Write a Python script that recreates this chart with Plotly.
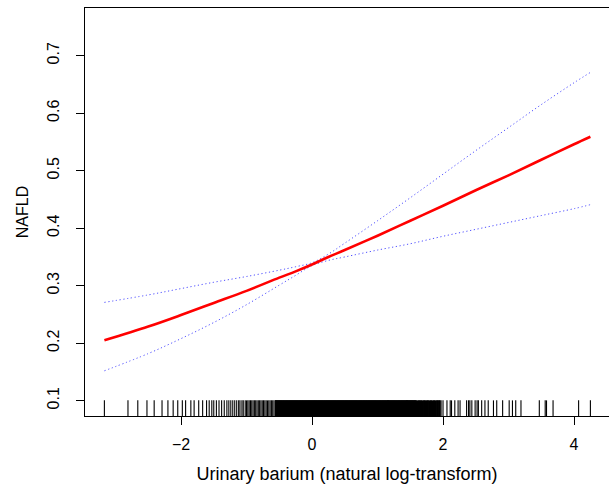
import plotly.graph_objects as go

# Fitted curve and 95% CI
x_fit = [-3.17, -2.5, -2.0, -1.5, -1.0, -0.5, -0.25, 0.0, 0.25, 0.5, 1.0, 1.5, 2.0, 2.5, 3.0, 3.5, 4.0, 4.25]
y_fit = [0.205, 0.229, 0.249, 0.270, 0.291, 0.314, 0.325, 0.337, 0.350, 0.362, 0.387, 0.413, 0.439, 0.466, 0.492, 0.519, 0.546, 0.559]
y_upper = [0.271, 0.284, 0.295, 0.306, 0.316, 0.327, 0.333, 0.340, 0.355, 0.374, 0.413, 0.453, 0.494, 0.535, 0.575, 0.615, 0.653, 0.671]
y_lower = [0.152, 0.182, 0.208, 0.236, 0.267, 0.301, 0.318, 0.335, 0.344, 0.350, 0.362, 0.373, 0.386, 0.398, 0.410, 0.422, 0.434, 0.441]

# Rug (observed exposure values)
rug_left = [-3.17, -2.81, -2.66, -2.52, -2.41, -2.29, -2.20, -2.12, -2.05, -1.98, -1.93, -1.85,
            -1.80, -1.73, -1.67, -1.61, -1.57, -1.53, -1.50, -1.46, -1.42, -1.38, -1.34, -1.30, -1.27,
            -1.24, -1.21, -1.18, -1.15, -1.12, -1.10, -1.07, -1.05, -1.02, -1.00, -0.98, -0.96,
            -0.94, -0.92, -0.90, -0.88, -0.86, -0.84, -0.82, -0.80, -0.78, -0.76, -0.74, -0.72,
            -0.70, -0.68, -0.66, -0.64, -0.62, -0.60, -0.58, -0.56]
rug_dense_hundredths = [
    -55, -54, -53, -52, -51, -50, -49, -48, -47, -46, -45, -44, -43, -42, -41, -40, -39, -38, -37, -36,
    -35, -34, -33, -32, -31, -30, -29, -28, -27, -26, -25, -24, -23, -22, -21, -20, -19, -18, -17, -16,
    -15, -14, -13, -12, -11, -10, -9, -8, -7, -6, -5, -4, -3, -2, -1, 0, 1, 2, 3, 4,
    5, 6, 7, 8, 9, 10, 11, 12, 13, 14, 15, 16, 17, 18, 19, 20, 21, 22, 23, 24,
    25, 26, 27, 28, 29, 30, 31, 32, 33, 34, 35, 36, 37, 38, 39, 40, 41, 42, 43, 44,
    45, 46, 47, 48, 49, 50, 51, 52, 53, 54, 55, 56, 57, 58, 59, 60, 61, 62, 63, 64,
    65, 66, 67, 68, 69, 70, 71, 72, 73, 74, 75, 76, 77, 78, 79, 80, 81, 82, 83, 84,
    85, 86, 87, 88, 89, 90, 91, 92, 93, 94, 95, 96, 97, 98, 99, 100, 101, 102, 103, 104,
    105, 106, 107, 108, 109, 110, 111, 112, 113, 114, 115, 116, 117, 118, 119, 120, 121, 122, 123, 124,
    125, 126, 127, 128, 129, 130, 131, 132, 133, 134, 135, 136, 137, 138, 139, 140, 141, 142, 143, 144,
    145, 146, 147, 148, 149, 150, 151, 152, 153, 154, 155, 156, 157, 158, 159, 161, 163, 164, 166, 167,
    169, 171, 172, 174, 176, 177, 179, 181, 182, 184, 186, 187, 189, 191, 192, 194, 195]
rug_right = [1.97, 2.00, 2.06, 2.11, 2.13, 2.18, 2.23, 2.26, 2.36, 2.39, 2.41, 2.44, 2.49, 2.52,
             2.54, 2.59, 2.64, 2.69, 2.77, 2.82, 2.91, 3.01, 3.06, 3.11, 3.19, 3.47, 3.56, 3.58,
             3.68, 4.07, 4.25]

x_ticks = [-2, 0, 2, 4]
x_tick_labels = ["\u22122", "0", "2", "4"]
y_ticks = [0.1, 0.2, 0.3, 0.4, 0.5, 0.6, 0.7]
y_tick_labels = ["0.1", "0.2", "0.3", "0.4", "0.5", "0.6", "0.7"]

rug_sparse = rug_left + rug_right
rug_dense = [v / 100 for v in rug_dense_hundredths]

FONT = "Liberation Sans, Arial, Helvetica, sans-serif"
fig = go.Figure()
for vals, w in ((rug_sparse, 1.1), (rug_dense, 2.0)):
    fig.add_trace(go.Scatter(x=vals, y=[0.016] * len(vals), mode="markers", yaxis="y2",
                             marker=dict(symbol="line-ns-open", size=13, color="black",
                                         line=dict(color="black", width=w)),
                             hoverinfo="skip"))
fig.add_trace(go.Scatter(x=x_fit, y=y_upper, mode="lines", line_shape="spline",
                         line=dict(color="rgb(80,80,255)", width=1.0, dash="1.2px,2.6px")))
fig.add_trace(go.Scatter(x=x_fit, y=y_lower, mode="lines", line_shape="spline",
                         line=dict(color="rgb(80,80,255)", width=1.0, dash="1.2px,2.6px")))
fig.add_trace(go.Scatter(x=x_fit, y=y_fit, mode="lines", line_shape="spline",
                         line=dict(color="#ff0000", width=2.6)))

fig.update_layout(
    width=609, height=487,
    margin=dict(l=85, r=0, t=8, b=71),
    paper_bgcolor="white", plot_bgcolor="white",
    showlegend=False,
    font=dict(family=FONT, size=16, color="black"),
    xaxis=dict(range=[-3.466, 4.534], tickvals=x_ticks, ticktext=x_tick_labels,
               automargin=False,
               showgrid=False, zeroline=False, showline=True, mirror=True,
               linecolor="black", linewidth=1.3, ticks="outside", ticklen=8,
               tickwidth=1.1, tickcolor="black", tickfont=dict(size=16),
               ticklabelstandoff=6,
               title=dict(text="Urinary barium (natural log-transform)",
                          font=dict(size=18), standoff=15)),
    yaxis=dict(range=[0.0734, 0.783], tickvals=y_ticks, ticktext=y_tick_labels,
               automargin=False,
               tickangle=-90, showgrid=False, zeroline=False, showline=True,
               mirror=False, linecolor="black", linewidth=1.3, ticks="outside",
               ticklen=8, tickwidth=1.1, tickcolor="black", tickfont=dict(size=16),
               ticklabelstandoff=10,
               title=dict(text="NAFLD", font=dict(size=16), standoff=12)),
    yaxis2=dict(range=[0, 1], overlaying="y", visible=False),
)

fig.write_html("out.html", config={"displayModeBar": False},
               post_script="document.body.style.margin='0px';document.body.style.overflow='hidden';")
